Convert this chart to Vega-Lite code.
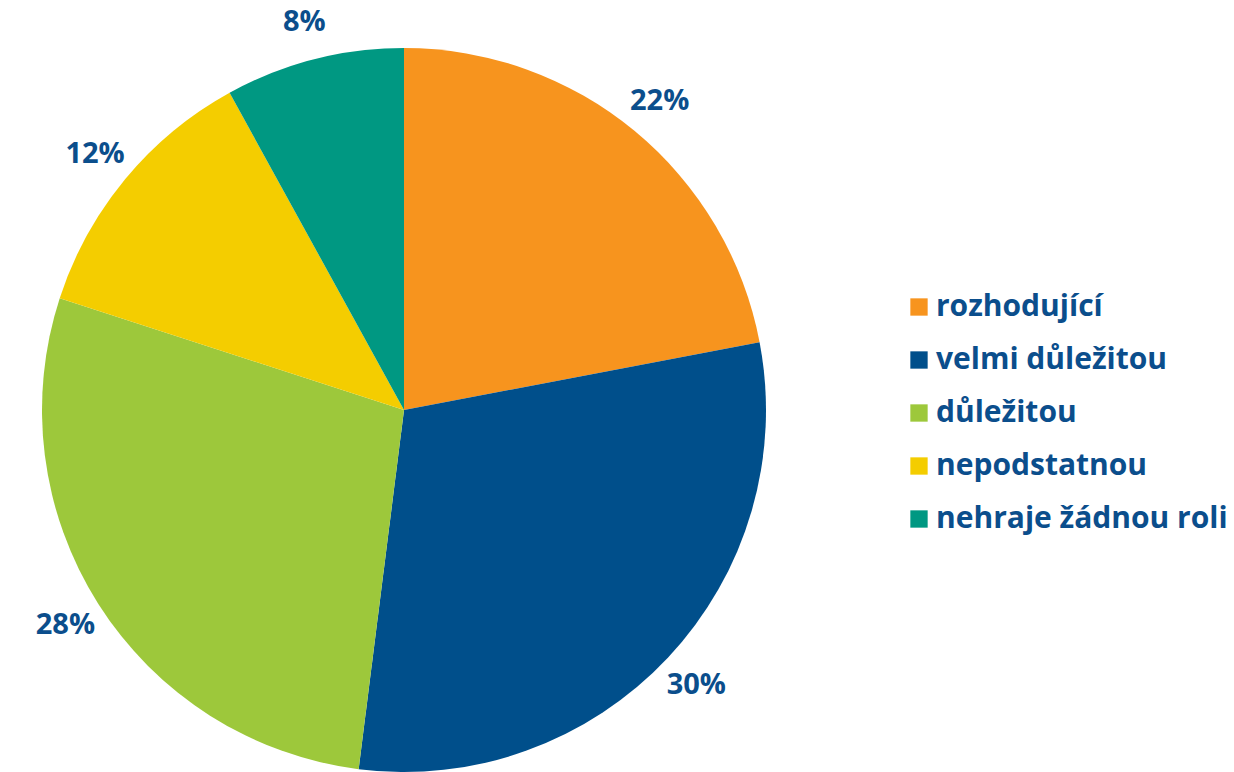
{
  "$schema": "https://vega.github.io/schema/vega-lite/v6.json",
  "width": 808,
  "height": 820,
  "padding": 0,
  "autosize": {"type": "pad"},
  "background": "white",
  "data": {
    "values": [
      {"kategorie": "rozhodující", "podil": 22, "poradi": 1, "popis": "22%"},
      {"kategorie": "velmi důležitou", "podil": 30, "poradi": 2, "popis": "30%"},
      {"kategorie": "důležitou", "podil": 28, "poradi": 3, "popis": "28%"},
      {"kategorie": "nepodstatnou", "podil": 12, "poradi": 4, "popis": "12%"},
      {"kategorie": "nehraje žádnou roli", "podil": 8, "poradi": 5, "popis": "8%"}
    ]
  },
  "encoding": {
    "theta": {"field": "podil", "type": "quantitative", "stack": true},
    "order": {"field": "poradi", "type": "quantitative"}
  },
  "layer": [
    {
      "mark": {"type": "arc", "outerRadius": 362, "stroke": null},
      "encoding": {
        "color": {
          "field": "kategorie",
          "type": "nominal",
          "sort": null,
          "scale": {
            "domain": ["rozhodující", "velmi důležitou", "důležitou", "nepodstatnou", "nehraje žádnou roli"],
            "range": ["#F7941E", "#004F8B", "#9DC83B", "#F4CD00", "#009882"]
          },
          "legend": {
            "title": null,
            "orient": "none",
            "legendX": 904,
            "legendY": 292,
            "padding": 0,
            "symbolType": "square",
            "symbolSize": 300,
            "symbolStrokeWidth": 0,
            "labelFont": "Open Sans",
            "labelFontWeight": "bold",
            "labelFontSize": 30,
            "labelColor": "#0B4E8C",
            "labelOffset": 2,
            "rowPadding": 23,
            "labelLimit": 400
          }
        }
      }
    },
    {
      "mark": {
        "type": "text",
        "radius": 401,
        "font": "Open Sans",
        "fontWeight": "bold",
        "fontSize": 29,
        "color": "#0B4E8C",
        "align": "center",
        "baseline": "middle"
      },
      "encoding": {
        "text": {"field": "popis", "type": "nominal"}
      }
    }
  ]
}
